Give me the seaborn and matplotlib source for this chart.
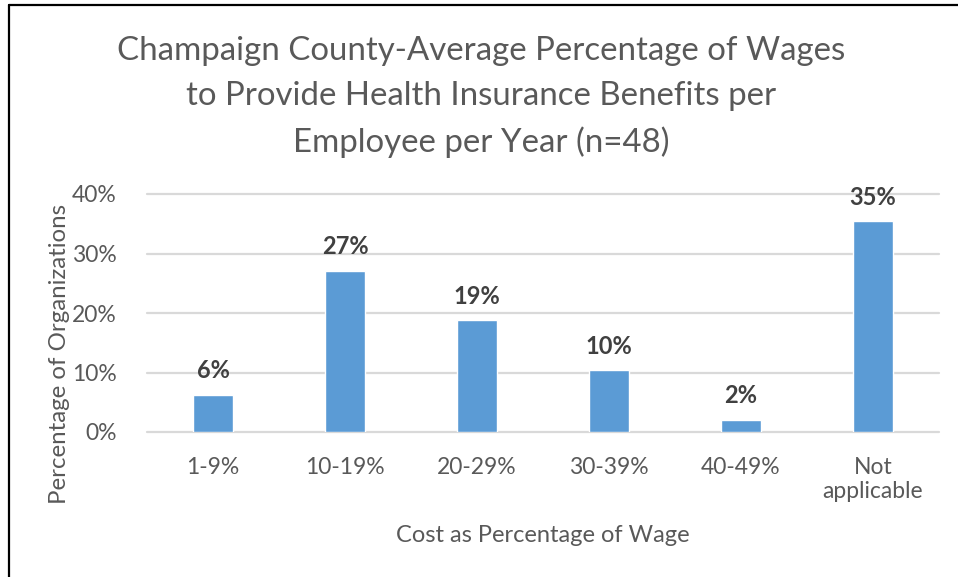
import matplotlib
matplotlib.use("Agg")
import matplotlib.pyplot as plt
from matplotlib.lines import Line2D
import seaborn as sns
import pandas as pd

# Survey responses (n=48), share of organizations per wage-cost bracket
categories = ["1-9%", "10-19%", "20-29%", "30-39%", "40-49%", "Not\napplicable"]
shares = [6.25, 27.08, 18.75, 10.42, 2.08, 35.42]
y_ticks = [0, 10, 20, 30, 40]
y_tick_labels = ["0%", "10%", "20%", "30%", "40%"]

title = ("Champaign County-Average Percentage of Wages\n"
         "to Provide Health Insurance Benefits per\n"
         "Employee per Year (n=48)")
x_title = "Cost as Percentage of Wage"
y_title = "Percentage of Organizations"

sns.set_theme(style="white")
plt.rcParams["font.family"] = ["Lato", "DejaVu Sans"]

BAR = "#5B9BD5"
TEXT = "#595959"
LABEL = "#404040"
GRID = "#D9D9D9"

df = pd.DataFrame({"bracket": categories, "share": shares})

W, H = 958, 577
fig = plt.figure(figsize=(W / 100, H / 100), dpi=100)
ax = fig.add_axes([147 / W, 1 - 432 / H, (939 - 147) / W, (432 - 194) / H])

sns.barplot(data=df, x="bracket", y="share", color=BAR, saturation=1,
            width=0.31, ax=ax)

ax.set_xlim(-0.5, len(categories) - 0.5)
ax.set_ylim(0, 40)
ax.set_yticks(y_ticks)
ax.set_yticklabels(y_tick_labels)
for y in y_ticks:
    ax.axhline(y, color=GRID, lw=1.6, zorder=0, clip_on=False)
for s in ax.spines.values():
    s.set_visible(False)
ax.tick_params(axis="both", length=0, labelsize=16.5, labelcolor=TEXT)
ax.tick_params(axis="y", pad=22)
ax.tick_params(axis="x", pad=18)

ax.set_xlabel(x_title, fontsize=17, color=TEXT, labelpad=16)
ax.set_ylabel("")
fig.text(60 / W, 1 - 354 / H, y_title, rotation=90, ha="center", va="center",
         fontsize=17.3, color=TEXT)

# Data labels above each bar
for i, v in enumerate(shares):
    ax.annotate(f"{v:.0f}%", (i, v), xytext=(0, 9), textcoords="offset points",
                ha="center", va="bottom", fontsize=17, fontweight="bold",
                color=LABEL)

fig.text(481 / W, 1 - 97 / H, title, ha="center", va="center",
         fontsize=23.8, color=TEXT, linespacing=1.6)

# Chart frame
frame = dict(color="black", lw=1.6, transform=fig.transFigure)
fig.add_artist(Line2D([8.5 / W, 8.5 / W], [0, 1 - 4.5 / H], **frame))
fig.add_artist(Line2D([8.5 / W, 1], [1 - 4.5 / H, 1 - 4.5 / H], **frame))

fig.savefig("out.png", dpi=100, facecolor="white")
